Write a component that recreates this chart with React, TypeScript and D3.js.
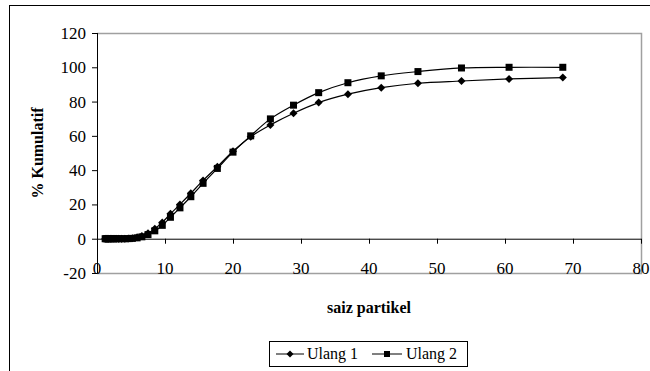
import React from "react";
import * as d3 from "d3";

const sizes = [1.2, 1.35, 1.5, 1.7, 1.95, 2.2, 2.5, 2.8, 3.2, 3.6, 4.1, 4.6, 5.2, 5.9, 6.6, 7.5, 8.5, 9.6, 10.8, 12.2, 13.8, 15.6, 17.7, 20.0, 22.6, 25.5, 28.9, 32.6, 36.9, 41.8, 47.2, 53.6, 60.6, 68.5];
const ulang1 = [0, 0, 0, 0, 0, 0, 0, 0, 0, 0, 0.05, 0.1, 0.3, 0.8, 1.6, 3.2, 5.8, 9.5, 14.5, 20, 26.5, 34, 42, 51, 59.5, 66.4, 73.2, 79.4, 84.3, 88.1, 90.7, 92, 93.2, 94];
const ulang2 = [0, 0, 0, 0, 0, 0, 0, 0, 0, 0, 0, 0.05, 0.2, 0.5, 1.1, 2.4, 4.6, 7.8, 12.5, 18, 24.5, 32.3, 41, 50.5, 60, 69.9, 77.9, 85.2, 91, 95, 97.5, 99.6, 100, 100];
const xTicks = [0, 10, 20, 30, 40, 50, 60, 70, 80];
const yTicks = [-20, 0, 20, 40, 60, 80, 100, 120];
const seriesNames = ["Ulang 1", "Ulang 2"];

const FONT = "Liberation Serif, Times New Roman, serif";

export default function App() {
  const left = 97, right = 641, top = 33, bottom = 273;
  const x = d3.scaleLinear().domain([0, 80]).range([left, right]);
  const y = d3.scaleLinear().domain([-20, 120]).range([bottom, top]);
  const line = d3
    .line<[number, number]>()
    .x((d) => x(d[0]))
    .y((d) => y(d[1]))
    .curve(d3.curveCatmullRom);
  const s1 = sizes.map((s, i) => [s, ulang1[i]] as [number, number]);
  const s2 = sizes.map((s, i) => [s, ulang2[i]] as [number, number]);
  const diamond = (cx: number, cy: number, r = 4) =>
    `M${cx},${cy - r}L${cx + r},${cy}L${cx},${cy + r}L${cx - r},${cy}Z`;
  const y0 = y(0);
  const ts = { fontFamily: FONT, fontSize: "17px" } as React.CSSProperties;
  const tb = { fontFamily: FONT, fontSize: "16px", fontWeight: "bold" } as React.CSSProperties;

  return (
    <svg
      width={650}
      height={371}
      style={{ position: "absolute", left: 0, top: 0, background: "#fff" }}
    >
      <rect x={0} y={0} width={650} height={371} fill="#fff" />
      <rect x={9.5} y={5.5} width={660} height={400} fill="none" stroke="#000" strokeWidth={1} />
      {/* plot area border */}
      <path d={`M${left},${top + 0.5}H${right + 0.5}V${bottom + 0.5}H${left}`} fill="none" stroke="#a0a0a0" strokeWidth={1.5} />
      {/* y axis */}
      <line x1={left + 0.5} x2={left + 0.5} y1={top} y2={bottom} stroke="#000" />
      {yTicks.map((t) => (
        <g key={t}>
          <line x1={left - 5} x2={left} y1={y(t) + 0.5} y2={y(t) + 0.5} stroke="#000" />
          <text x={left - 11} y={y(t) + 6} textAnchor="end" style={ts}>
            {t}
          </text>
        </g>
      ))}
      {/* x axis at y=0 */}
      <line x1={left} x2={right} y1={y0 + 0.5} y2={y0 + 0.5} stroke="#000" />
      {xTicks.map((t) => (
        <g key={t}>
          <line x1={x(t) + 0.5} x2={x(t) + 0.5} y1={y0} y2={y0 + 5} stroke="#000" />
          <text x={x(t)} y={bottom + 1} textAnchor="middle" style={ts}>
            {t}
          </text>
        </g>
      ))}
      {/* titles */}
      <text
        transform={`translate(43,${(top + bottom) / 2}) rotate(-90)`}
        textAnchor="middle"
        style={tb}
      >
        % Kumulatif
      </text>
      <text x={(left + right) / 2} y={313} textAnchor="middle" style={tb}>
        saiz partikel
      </text>
      {/* series */}
      <path d={line(s1) || ""} fill="none" stroke="#000" strokeWidth={1.2} />
      <path d={line(s2) || ""} fill="none" stroke="#000" strokeWidth={1.2} />
      {s1.map((d, i) => (
        <path key={"d" + i} d={diamond(x(d[0]), y(d[1]))} fill="#000" />
      ))}
      {s2.map((d, i) => (
        <rect key={"s" + i} x={x(d[0]) - 3.5} y={y(d[1]) - 3.5} width={7} height={7} fill="#000" />
      ))}
      {/* legend */}
      <rect x={269.5} y={341.5} width={198} height={25} fill="#fff" stroke="#000" />
      <line x1={276} x2={304} y1={354} y2={354} stroke="#000" />
      <path d={diamond(290, 354, 3.5)} fill="#000" />
      <text x={307} y={359} style={{ fontFamily: FONT, fontSize: "16px" }}>
        {seriesNames[0]}
      </text>
      <line x1={372} x2={402} y1={354} y2={354} stroke="#000" />
      <rect x={384} y={351} width={6} height={6} fill="#000" />
      <text x={406} y={359} style={{ fontFamily: FONT, fontSize: "16px" }}>
        {seriesNames[1]}
      </text>
    </svg>
  );
}
